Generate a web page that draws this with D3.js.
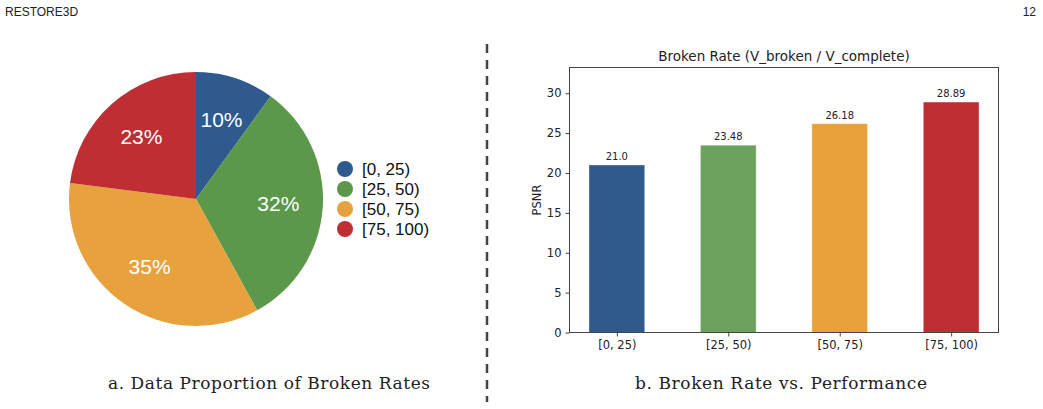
<!DOCTYPE html>
<html><head><meta charset="utf-8">
<script src="https://cdn.jsdelivr.net/npm/d3@7"></script>
<style>body{margin:0;background:#fff}svg{display:block}</style>
</head><body>
<svg id="c" width="1043" height="409"></svg>
<script>
const categories = ["[0, 25)", "[25, 50)", "[50, 75)", "[75, 100)"];
const proportions = [10, 32, 35, 23];
const psnr = [21.0, 23.48, 26.18, 28.89];
const psnrLabels = ["21.0", "23.48", "26.18", "28.89"];
const yTicks = [0, 5, 10, 15, 20, 25, 30];
const pieColors = ["#2e5a8e", "#5b984a", "#e8a23d", "#bf2e33"];
const barColors = ["#2e5a8c", "#6ca25c", "#e8a23c", "#be2d32"];

const svg = d3.select("#c");
const sans = "'Liberation Sans', Arial, Helvetica, sans-serif";
const mpl = "'DejaVu Sans', sans-serif";

// header
svg.append("text").attr("x", 5).attr("y", 16).attr("font-family", sans).attr("font-size", 12).attr("fill", "#222").text("RESTORE3D");
svg.append("text").attr("x", 1036).attr("y", 16).attr("text-anchor", "end").attr("font-family", sans).attr("font-size", 12).attr("fill", "#222").text("12");

// divider
svg.append("line").attr("x1", 487).attr("x2", 487).attr("y1", 44).attr("y2", 402)
  .attr("stroke", "#444").attr("stroke-width", 2.5).attr("stroke-dasharray", "9,7");

// pie
const cx = 196, cy = 199, R = 127;
const pie = d3.pie().sort(null).value(d => d);
const arcs = pie(proportions);
const arc = d3.arc().innerRadius(0).outerRadius(R);
const labelArc = d3.arc().innerRadius(R * 0.65).outerRadius(R * 0.65);
const pg = svg.append("g").attr("transform", `translate(${cx},${cy})`);
pg.selectAll("path").data(arcs).join("path").attr("d", arc).attr("fill", (d, i) => pieColors[i]);
pg.selectAll("text").data(arcs).join("text")
  .attr("transform", d => `translate(${labelArc.centroid(d)})`)
  .attr("text-anchor", "middle").attr("dy", "0.33em")
  .attr("font-family", sans).attr("font-size", 21).attr("fill", "#fff")
  .text(d => d.data + "%");

// legend
const lg = svg.append("g");
categories.forEach((c, i) => {
  const y = 169 + i * 20;
  lg.append("circle").attr("cx", 345).attr("cy", y).attr("r", 8).attr("fill", pieColors[i]);
  lg.append("text").attr("x", 362).attr("y", y).attr("dy", "0.36em").attr("font-family", sans).attr("font-size", 17).attr("fill", "#111").text(c);
});

// bar chart
const L = 569.5, Rr = 998.5, T = 67.5, B = 332.5;
const x = d3.scaleLinear().domain([-0.425, 3.425]).range([L, Rr]);
const y = d3.scaleLinear().domain([0, 28.89 * 1.15]).range([B, T]);
const bg = svg.append("g");
bg.selectAll("rect").data(psnr).join("rect")
  .attr("x", (d, i) => x(i - 0.25)).attr("width", x(0.25) - x(-0.25))
  .attr("y", d => y(d)).attr("height", d => y(0) - y(d))
  .attr("fill", (d, i) => barColors[i]).attr("stroke", "rgba(255,255,255,0.35)").attr("stroke-width", 1);
bg.selectAll("text.v").data(psnr).join("text").attr("class", "v")
  .attr("x", (d, i) => x(i)).attr("y", d => y(d) - 5).attr("text-anchor", "middle")
  .attr("font-family", mpl).attr("font-size", 10).attr("fill", "#222").text((d, i) => psnrLabels[i]);

svg.append("rect").attr("x", L).attr("y", T).attr("width", Rr - L).attr("height", B - T)
  .attr("fill", "none").attr("stroke", "#444").attr("stroke-width", 1);

const yAxis = svg.append("g").attr("transform", `translate(${L},0)`)
  .call(d3.axisLeft(y).tickValues(yTicks).tickSize(4).tickPadding(4));
yAxis.select(".domain").remove();
yAxis.selectAll("text").attr("font-family", mpl).attr("font-size", 11.5).attr("fill", "#222");
yAxis.selectAll("line").attr("stroke", "#444");

const xAxis = svg.append("g").attr("transform", `translate(0,${B})`)
  .call(d3.axisBottom(x).tickValues([0, 1, 2, 3]).tickFormat(i => categories[i]).tickSize(4).tickPadding(4));
xAxis.select(".domain").remove();
xAxis.selectAll("text").attr("font-family", mpl).attr("font-size", 11.5).attr("fill", "#222");
xAxis.selectAll("line").attr("stroke", "#444");

svg.append("text").attr("transform", `translate(541,${(T + B) / 2}) rotate(-90)`)
  .attr("text-anchor", "middle").attr("font-family", mpl).attr("font-size", 11.5).attr("fill", "#222").text("PSNR");
svg.append("text").attr("x", (L + Rr) / 2).attr("y", 61).attr("text-anchor", "middle")
  .attr("font-family", mpl).attr("font-size", 13.5).attr("fill", "#222").text("Broken Rate (V_broken / V_complete)");

// captions
const serif = "'DejaVu Serif', serif";
svg.append("text").attr("x", 269).attr("y", 389).attr("text-anchor", "middle").attr("font-family", serif)
  .attr("font-size", 17).attr("fill", "#222").attr("textLength", 322).text("a. Data Proportion of Broken Rates");
svg.append("text").attr("x", 781).attr("y", 389).attr("text-anchor", "middle").attr("font-family", serif)
  .attr("font-size", 17).attr("fill", "#222").attr("textLength", 292).text("b. Broken Rate vs. Performance");
</script>
</body></html>
